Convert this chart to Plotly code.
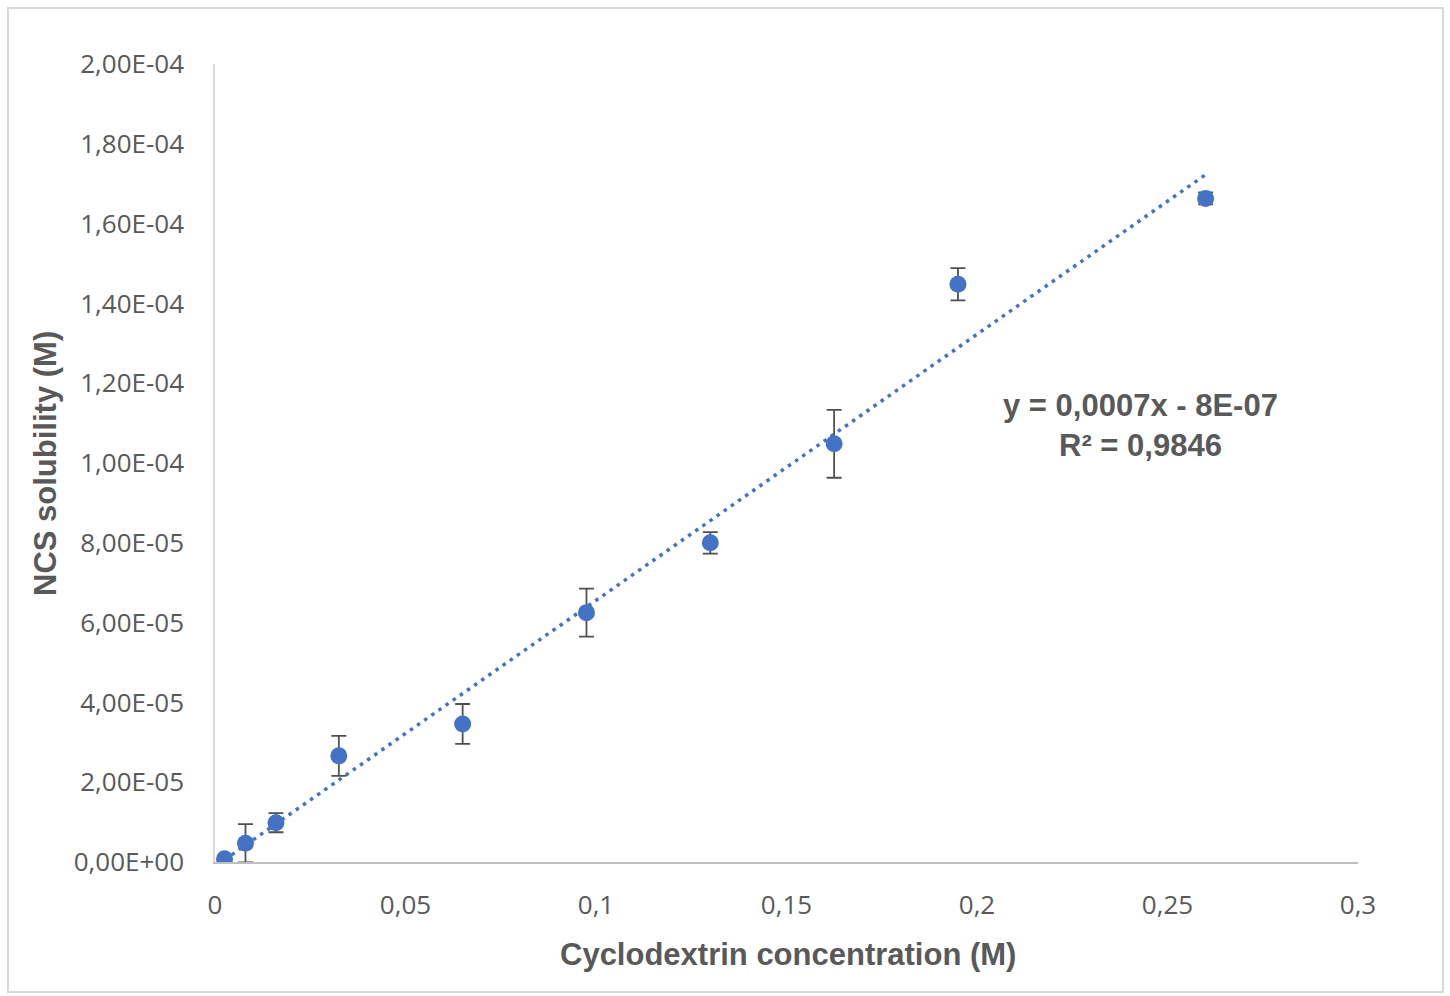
import numpy as np
import plotly.graph_objects as go

# Cyclodextrin concentration (M) and NCS solubility (M) with error
cd_conc = [0.0025, 0.008, 0.016, 0.0325, 0.065, 0.0975, 0.13, 0.1625, 0.195, 0.26]
ncs_sol = [8e-7, 4.7e-6, 9.85e-6, 2.66e-5, 3.46e-5, 6.25e-5, 8.0e-5, 1.048e-4, 1.448e-4, 1.663e-4]
ncs_err = [0.0, 4.8e-6, 2.4e-6, 5.0e-6, 5.0e-6, 6.0e-6, 2.7e-6, 8.5e-6, 4.05e-6, 1.5e-6]

x_tickvals = [0, 0.05, 0.1, 0.15, 0.2, 0.25, 0.3]
x_ticktext = ["0", "0,05", "0,1", "0,15", "0,2", "0,25", "0,3"]
y_tickvals = [0, 2e-5, 4e-5, 6e-5, 8e-5, 1e-4, 1.2e-4, 1.4e-4, 1.6e-4, 1.8e-4, 2e-4]
y_ticktext = ["0,00E+00", "2,00E-05", "4,00E-05", "6,00E-05", "8,00E-05", "1,00E-04",
              "1,20E-04", "1,40E-04", "1,60E-04", "1,80E-04", "2,00E-04"]

eq_label = "y = 0,0007x - 8E-07<br>R² = 0,9846"

BLUE = "#4472C4"
GREY_TXT = "#595959"

# Linear least-squares trendline over the measured range
slope, intercept = np.polyfit(cd_conc, ncs_sol, 1)
trend_x = np.array([min(cd_conc), max(cd_conc)])
trend_y = slope * trend_x + intercept

fig = go.Figure()

fig.add_trace(go.Scatter(
    x=trend_x, y=trend_y, mode="lines",
    line=dict(color=BLUE, width=3.5, dash="3.5px,5.2px"),
    hoverinfo="skip", showlegend=False,
))

fig.add_trace(go.Scatter(
    x=cd_conc, y=ncs_sol, mode="markers",
    marker=dict(color=BLUE, size=17, line=dict(width=0)),
    error_y=dict(type="data", array=ncs_err, visible=True,
                 color="#505050", thickness=1.8, width=7.5),
    showlegend=False,
))

W, H = 1450, 996
L, R, T, B = 215, 92, 64, 134
pw, ph = W - L - R, H - T - B


def px_to_paper(px, py):
    return (px - L) / pw, (H - B - py) / ph


x0, y0 = px_to_paper(8, 992)
x1, y1 = px_to_paper(1443, 8)

fig.update_layout(
    width=W, height=H,
    margin=dict(l=L, r=R, t=T, b=B),
    paper_bgcolor="white", plot_bgcolor="white",
    xaxis=dict(
        range=[0, 0.3], tickvals=x_tickvals, ticktext=x_ticktext,
        showgrid=False, zeroline=False,
        showline=True, linecolor="#bfbfbf", linewidth=1.8,
        ticks="", ticklabelstandoff=19,
        tickfont=dict(family="Open Sans", size=26, color=GREY_TXT),
        automargin=False,
    ),
    yaxis=dict(
        range=[0, 2e-4], tickvals=y_tickvals, ticktext=y_ticktext,
        showgrid=False, zeroline=False,
        showline=True, linecolor="#d9d9d9", linewidth=1.5,
        ticks="", ticklabelstandoff=24,
        tickfont=dict(family="Open Sans", size=26, color=GREY_TXT),
        automargin=False,
    ),
    shapes=[dict(type="rect", xref="paper", yref="paper",
                 x0=x0, y0=y0, x1=x1, y1=y1,
                 line=dict(color="#d9d9d9", width=2), layer="below")],
    annotations=[
        dict(text="<b>Cyclodextrin concentration (M)</b>", xref="paper", yref="paper",
             x=(788 - L) / pw, y=(H - B - 954) / ph, showarrow=False,
             xanchor="center", yanchor="middle",
             font=dict(family="Liberation Sans", size=31, color=GREY_TXT)),
        dict(text="<b>NCS solubility (M)</b>", xref="paper", yref="paper",
             x=(45 - L) / pw, y=(H - B - 464) / ph, showarrow=False, textangle=-90,
             xanchor="center", yanchor="middle",
             font=dict(family="Liberation Sans", size=31, color=GREY_TXT)),
        dict(text="<b>" + eq_label + "</b>", xref="x", yref="y",
             x=0.243, y=1.093e-4, showarrow=False, align="center",
             xanchor="center", yanchor="middle",
             font=dict(family="Liberation Sans", size=31, color=GREY_TXT)),
    ],
)

fig.write_html("out.html")
